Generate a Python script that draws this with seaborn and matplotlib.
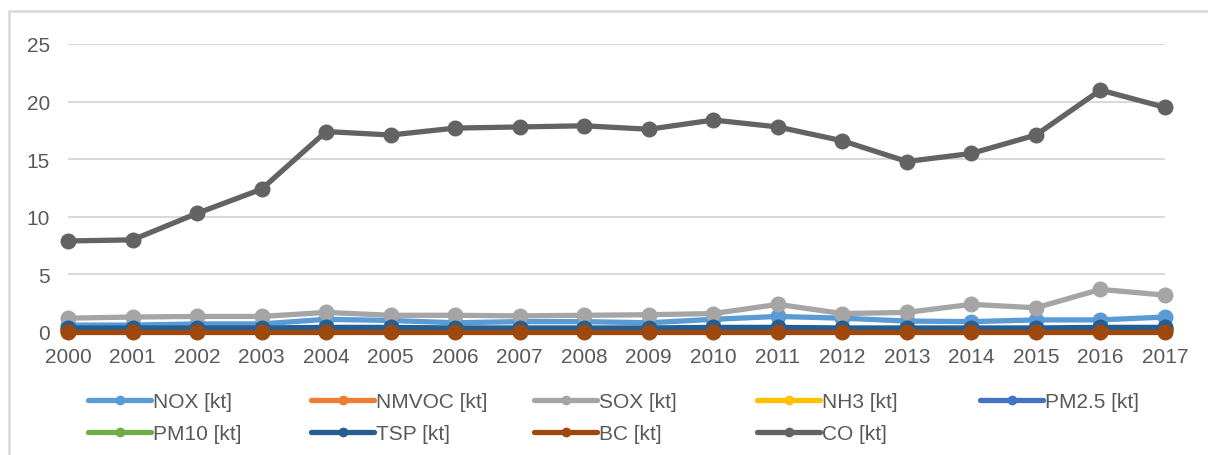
import matplotlib
matplotlib.use('Agg')
import matplotlib.pyplot as plt
from matplotlib.lines import Line2D
from matplotlib.patches import Rectangle
import seaborn as sns
import pandas as pd

years = list(range(2000, 2018))

nox = [0.6, 0.6, 0.7, 0.7, 1.1, 1.0, 0.8, 0.9, 0.9, 0.8, 1.1, 1.35, 1.2, 0.95, 0.9, 1.05, 1.05, 1.3]
nmvoc = [0.1, 0.1, 0.1, 0.1, 0.15, 0.15, 0.15, 0.15, 0.15, 0.15, 0.2, 0.25, 0.2, 0.2, 0.2, 0.25, 0.3, 0.25]
sox = [1.2, 1.3, 1.35, 1.35, 1.7, 1.45, 1.45, 1.4, 1.45, 1.5, 1.6, 2.4, 1.6, 1.7, 2.4, 2.1, 3.7, 3.2]
nh3 = [0.05] * 18
pm25 = [0.2, 0.2, 0.2, 0.2, 0.22, 0.22, 0.2, 0.2, 0.2, 0.2, 0.22, 0.22, 0.2, 0.2, 0.2, 0.2, 0.22, 0.22]
pm10 = [0.25, 0.25, 0.25, 0.25, 0.27, 0.27, 0.25, 0.25, 0.25, 0.25, 0.27, 0.27, 0.25, 0.25, 0.25, 0.25, 0.27, 0.27]
tsp = [0.35, 0.35, 0.35, 0.35, 0.4, 0.4, 0.35, 0.35, 0.35, 0.35, 0.4, 0.4, 0.35, 0.35, 0.35, 0.35, 0.4, 0.4]
bc = [0.03] * 18
co = [7.9, 8.0, 10.3, 12.4, 17.4, 17.1, 17.7, 17.8, 17.9, 17.6, 18.4, 17.8, 16.6, 14.8, 15.5, 17.1, 21.0, 19.5]

labels = ['NOX [kt]', 'NMVOC [kt]', 'SOX [kt]', 'NH3 [kt]', 'PM2.5 [kt]',
          'PM10 [kt]', 'TSP [kt]', 'BC [kt]', 'CO [kt]']
series = [nox, nmvoc, sox, nh3, pm25, pm10, tsp, bc, co]
colors = ['#5B9BD5', '#ED7D31', '#A5A5A5', '#FFC000', '#4472C4',
          '#70AD47', '#255E91', '#9E480E', '#636363']

df = pd.DataFrame({
    'year': years * len(labels),
    'value': [v for s in series for v in s],
    'pollutant': [lab for lab in labels for _ in years],
})

sns.set_style('white')
plt.rcParams['font.family'] = ['Liberation Sans', 'DejaVu Sans']
FS = 15
TXT = '#595959'

fig = plt.figure(figsize=(12.08, 4.56), dpi=100)
ax = fig.add_axes([68 / 1208, 1 - 333 / 456, (1165 - 68) / 1208, (333 - 45) / 456])

sns.lineplot(data=df, x='year', y='value', hue='pollutant', hue_order=labels,
             palette=colors, marker='o', markersize=11.5, markeredgewidth=0,
             linewidth=3.8, legend=False, ax=ax, clip_on=False)

ax.set_xlim(2000, 2017)
ax.set_ylim(0, 25)
ax.set_yticks(range(0, 26, 5))
ax.set_xticks(years)
ax.set_xlabel('')
ax.set_ylabel('')
ax.yaxis.grid(True, color='#D9D9D9', linewidth=1.5)
ax.set_axisbelow(True)
for sp in ax.spines.values():
    sp.set_visible(False)
ax.tick_params(axis='both', length=0, labelsize=FS, colors=TXT)
ax.tick_params(axis='y', pad=13)
ax.tick_params(axis='x', pad=11)

# legend: 5 fixed-width columns, two rows (row-major like Excel)
ncol = 5
for c in range(ncol):
    idx = [i for i in range(len(labels)) if i % ncol == c]
    handles = [Line2D([0], [0], color=colors[i], lw=3.8, marker='o', markersize=7,
                      markeredgewidth=0) for i in idx]
    fig.legend(handles, [labels[i] for i in idx], loc='upper left',
               bbox_to_anchor=((80 + 223 * c) / 1208, 1 - 385 / 456),
               frameon=False, fontsize=FS, labelcolor=TXT, handlelength=3.0,
               handletextpad=0.1, labelspacing=0.6, borderaxespad=0)

# outer chart frame (only top-left corner is visible in the crop)
fig.patches.append(Rectangle((9 / 1208, -0.1), 1.2, 1.1 - 12 / 456, transform=fig.transFigure,
                             fill=False, edgecolor='#D9D9D9', linewidth=1.8))

fig.savefig('out.png', dpi=100)
